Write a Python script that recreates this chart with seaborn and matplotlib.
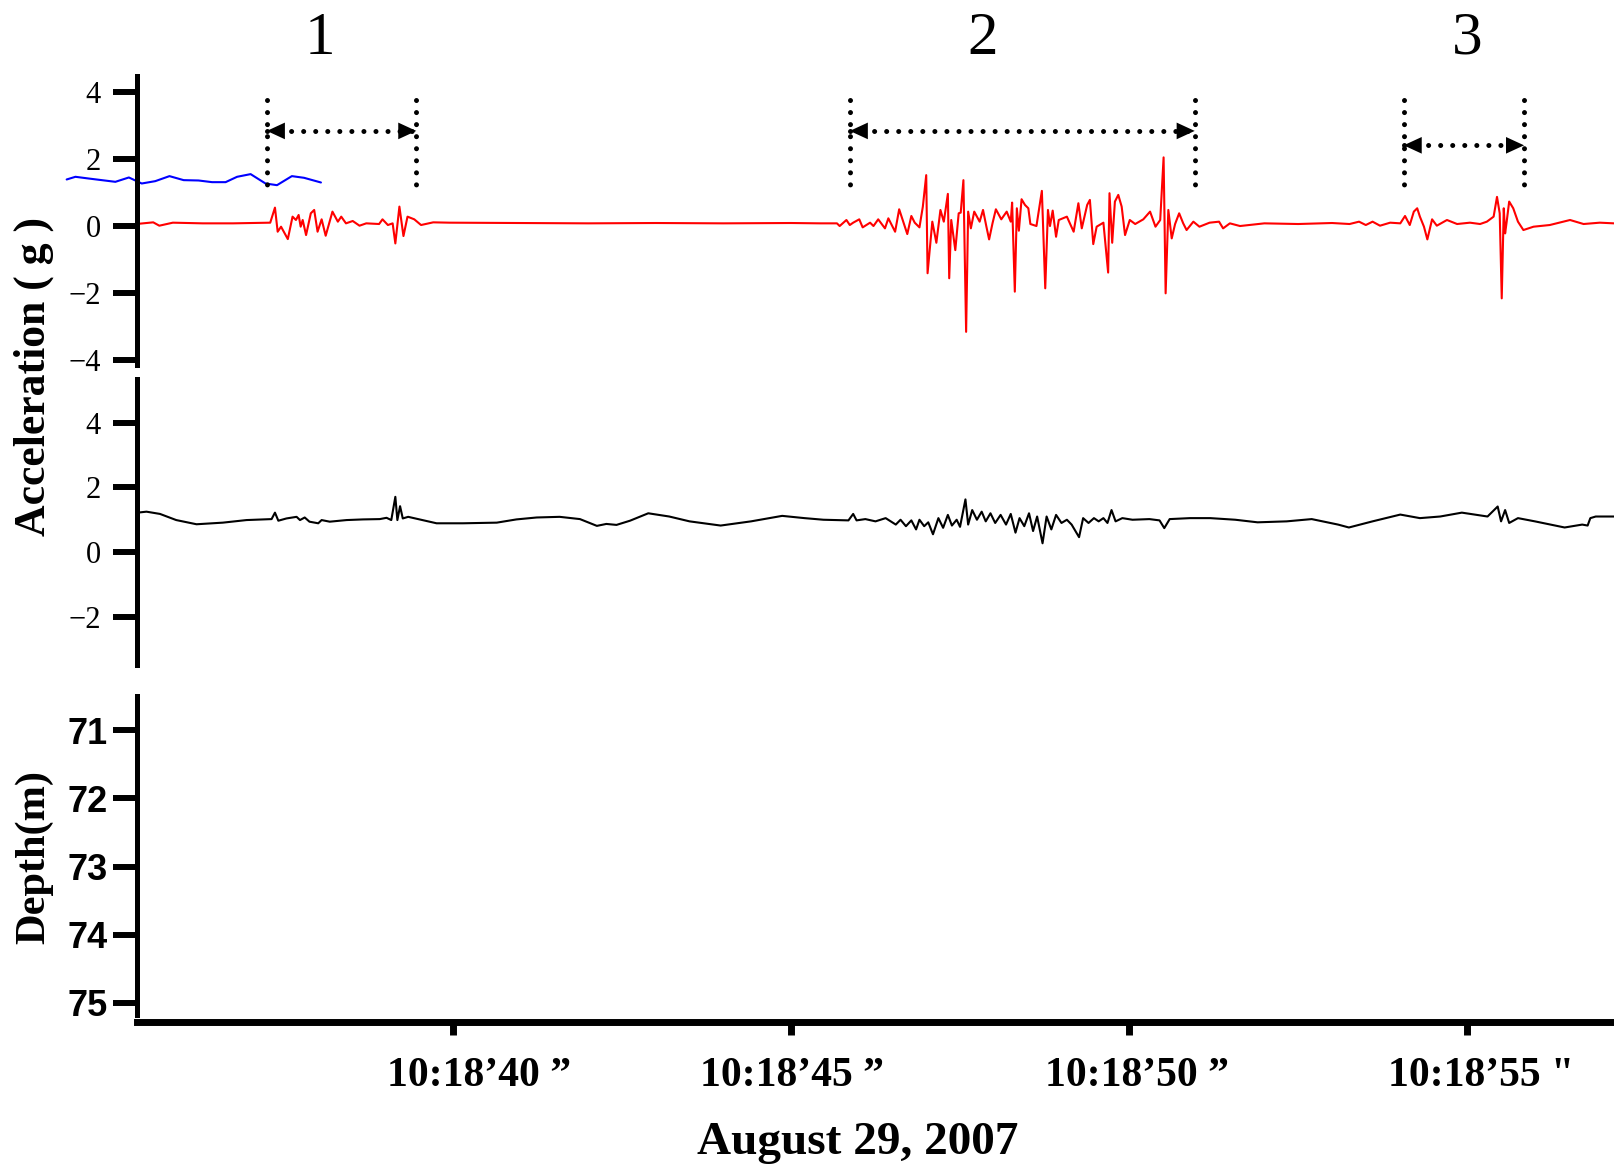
import matplotlib
matplotlib.use('Agg')
import matplotlib.pyplot as plt
import matplotlib.transforms as mtrans
import seaborn as sns

# time axis: seconds after 10:18:00
red_t = [35.32, 35.57, 35.66, 35.86, 36.30, 36.75, 37.30, 37.37, 37.41, 37.46, 37.56, 37.63, 37.68, 37.72,
         37.75, 37.78, 37.83, 37.90, 37.95, 38.00, 38.06, 38.12, 38.22, 38.30, 38.35, 38.42, 38.52, 38.62,
         38.72, 38.91, 38.96, 39.04, 39.11, 39.15, 39.21, 39.27, 39.33, 39.43, 39.53, 39.71, 39.95, 41.0,
         42.0, 43.0, 44.0, 45.0, 45.43, 45.68, 45.72, 45.82, 45.87, 45.92, 46.01, 46.06, 46.17, 46.22,
         46.29, 46.39, 46.44, 46.54, 46.60, 46.66, 46.72, 46.78, 46.83, 46.90, 46.95, 47.00, 47.02, 47.09,
         47.15, 47.21, 47.26, 47.32, 47.34, 47.37, 47.43, 47.48, 47.51, 47.55, 47.59, 47.62, 47.66, 47.71,
         47.79, 47.84, 47.89, 47.93, 47.98, 48.03, 48.11, 48.19, 48.25, 48.27, 48.31, 48.34, 48.37, 48.41,
         48.46, 48.51, 48.54, 48.63, 48.71, 48.76, 48.80, 48.83, 48.87, 48.92, 48.96, 49.08, 49.18, 49.25,
         49.30, 49.38, 49.42, 49.47, 49.52, 49.62, 49.69, 49.71, 49.75, 49.79, 49.84, 49.89, 49.94, 50.01,
         50.09, 50.21, 50.31, 50.39, 50.46, 50.51, 50.54, 50.58, 50.63, 50.68, 50.74, 50.80, 50.85, 50.95,
         51.04, 51.19, 51.33, 51.39, 51.49, 51.64, 52.0, 52.5, 53.0, 53.26, 53.40, 53.50, 53.60, 53.71,
         53.86, 54.01, 54.08, 54.15, 54.21, 54.26, 54.30, 54.36, 54.41, 54.48, 54.55, 54.70, 54.85, 55.04,
         55.19, 55.29, 55.39, 55.44, 55.48, 55.51, 55.54, 55.56, 55.58, 55.62, 55.68, 55.75, 55.83, 55.98,
         56.22, 56.52, 56.72, 56.96, 57.17]
red_g = [0.06, 0.11, 0.01, 0.10, 0.08, 0.08, 0.10, 0.55, -0.17, -0.02, -0.39, 0.28, 0.18, 0.33,
         -0.02, 0.18, -0.27, 0.38, 0.48, -0.17, 0.20, -0.29, 0.43, 0.13, 0.28, 0.08, 0.15, 0.01,
         0.08, 0.06, 0.20, 0.03, 0.08, -0.52, 0.58, -0.30, 0.28, 0.20, 0.03, 0.11, 0.10, 0.09,
         0.08, 0.09, 0.08, 0.09, 0.08, 0.08, 0.00, 0.18, 0.03, 0.10, 0.20, -0.04, 0.10, 0.00,
         0.20, -0.07, 0.23, -0.17, 0.50, 0.13, -0.24, 0.30, 0.10, -0.04, 0.58, 1.52, -1.41, 0.13,
         -0.50, 0.48, 0.13, 0.96, -1.56, 0.18, -0.72, 0.38, 0.40, 1.37, -3.16, 0.43, -0.07, 0.43,
         0.13, 0.48, -0.02, -0.40, 0.08, 0.50, 0.20, 0.43, 0.13, 0.70, -1.96, 0.53, -0.14, 0.80,
         0.63, 0.53, 0.06, 0.00, 1.05, -1.86, 0.48, 0.00, 0.46, -0.32, 0.18, 0.28, -0.17, 0.68,
         -0.07, 0.63, 0.78, -0.54, -0.02, 0.10, -1.39, 0.98, -0.50, 0.73, 0.93, 0.58, -0.27, 0.18,
         0.06, 0.20, 0.43, -0.02, 0.18, 2.05, -2.01, 0.48, -0.37, 0.06, 0.38, 0.08, -0.12, 0.13,
         -0.02, 0.10, 0.13, -0.07, 0.08, 0.00, 0.08, 0.06, 0.09, 0.06, 0.13, 0.03, 0.13, 0.01,
         0.10, 0.08, 0.30, 0.03, 0.43, 0.53, 0.28, -0.02, -0.40, 0.20, 0.01, 0.18, 0.06, 0.10,
         0.06, 0.13, 0.28, 0.87, 0.38, -2.16, 0.53, -0.22, 0.08, 0.73, 0.53, 0.13, -0.12, -0.02,
         0.03, 0.18, 0.06, 0.10, 0.08]

blue_t = [34.29, 34.42, 34.61, 35.01, 35.21, 35.40, 35.60, 35.81, 36.02, 36.24, 36.44, 36.64, 36.81,
          37.01, 37.23, 37.40, 37.62, 37.80, 38.05]
blue_g = [1.39, 1.47, 1.42, 1.32, 1.45, 1.27, 1.34, 1.49, 1.37, 1.36, 1.31, 1.31, 1.47,
          1.55, 1.27, 1.22, 1.49, 1.44, 1.30]

black_t = [35.34, 35.47, 35.67, 35.91, 36.21, 36.60, 36.95, 37.32, 37.37, 37.42, 37.54, 37.69, 37.74,
           37.81, 37.88, 38.01, 38.06, 38.18, 38.43, 38.67, 38.92, 39.02, 39.09, 39.15, 39.18, 39.22,
           39.26, 39.34, 39.51, 39.76, 40.15, 40.65, 40.94, 41.24, 41.58, 41.88, 42.13, 42.27, 42.42,
           42.62, 42.89, 43.20, 43.50, 43.96, 44.41, 44.87, 45.20, 45.48, 45.85, 45.92, 45.97, 46.10,
           46.25, 46.40, 46.55, 46.62, 46.70, 46.78, 46.85, 46.90, 46.97, 47.03, 47.10, 47.18, 47.25,
           47.32, 47.38, 47.45, 47.50, 47.58, 47.62, 47.68, 47.75, 47.82, 47.88, 47.95, 48.02, 48.10,
           48.18, 48.25, 48.32, 48.38, 48.45, 48.52, 48.58, 48.64, 48.72, 48.78, 48.85, 48.92, 49.00,
           49.08, 49.15, 49.26, 49.32, 49.40, 49.48, 49.55, 49.62, 49.68, 49.74, 49.80, 49.90, 50.05,
           50.30, 50.45, 50.52, 50.60, 50.90, 51.20, 51.57, 51.90, 52.33, 52.70, 53.09, 53.25, 53.60,
           54.01, 54.30, 54.60, 54.92, 55.30, 55.45, 55.50, 55.56, 55.62, 55.75, 56.00, 56.44, 56.70,
           56.78, 56.82, 56.90, 57.17]
black_g = [1.22, 1.25, 1.18, 0.99, 0.86, 0.91, 0.99, 1.02, 1.22, 0.97, 1.04, 1.09, 0.99,
           1.07, 0.94, 0.89, 0.99, 0.94, 0.99, 1.01, 1.02, 1.06, 0.99, 1.71, 0.99, 1.42,
           1.04, 1.09, 1.01, 0.89, 0.89, 0.91, 1.01, 1.07, 1.09, 1.02, 0.81, 0.87, 0.84,
           0.97, 1.20, 1.10, 0.95, 0.82, 0.95, 1.12, 1.05, 1.00, 0.98, 1.18, 0.98, 1.02,
           0.95, 1.05, 0.85, 1.00, 0.80, 0.98, 0.70, 1.00, 0.80, 0.92, 0.55, 1.05, 0.75,
           1.15, 0.82, 1.00, 0.78, 1.63, 0.85, 1.30, 1.00, 1.25, 0.95, 1.20, 0.90, 1.15,
           0.85, 1.18, 0.60, 1.05, 0.80, 1.20, 0.65, 1.10, 0.27, 1.10, 0.70, 1.15, 0.90,
           1.00, 0.85, 0.46, 1.05, 0.90, 1.05, 0.95, 1.05, 0.90, 1.30, 0.95, 1.05, 1.00,
           1.02, 0.98, 0.74, 1.02, 1.05, 1.05, 1.00, 0.92, 0.95, 1.02, 0.85, 0.76, 0.95,
           1.16, 1.05, 1.10, 1.22, 1.10, 1.41, 0.95, 1.30, 0.90, 1.05, 0.95, 0.76, 0.85,
           0.82, 1.05, 1.10, 1.10]

# event windows (seconds)
event_names = ['1', '2', '3']
event_label_t = [38.03, 47.83, 55.0]
event_start = [37.25, 45.87, 54.06]
event_end = [39.46, 50.97, 55.84]
event_arrow_g = [2.84, 2.84, 2.41]

tick_secs = [40, 45, 50, 55]
tick_labels = ['10:18\u201940 \u201d', '10:18\u201945 \u201d', '10:18\u201950 \u201d', '10:18\u201955 "']
tick_label_shift_px = [26, 1, 8, 14]
depth_ticks = [71, 72, 73, 74, 75]

sns.set_style('white')
plt.rcParams['font.family'] = ['Liberation Serif', 'DejaVu Serif']
plt.rcParams.update({'text.color': 'black', 'axes.edgecolor': 'black',
                     'xtick.color': 'black', 'ytick.color': 'black', 'axes.labelcolor': 'black'})

W, H = 1614, 1167
fig = plt.figure(figsize=(W / 100, H / 100), dpi=100)
left = 137 / W
ax1 = fig.add_axes([left, 1 - 365 / H, 1 - left, 289 / H])
ax2 = fig.add_axes([left, 1 - 665 / H, 1 - left, 286 / H], sharex=ax1)
ax3 = fig.add_axes([left, 1 - 1022 / H, 1 - left, 326 / H], sharex=ax1)

sns.lineplot(x=red_t, y=red_g, ax=ax1, color='#ff0000', lw=1.5, estimator=None, sort=False)
sns.lineplot(x=blue_t, y=blue_g, ax=ax1, color='#0000ff', lw=1.5, estimator=None, sort=False)
ax1.lines[-1].set_clip_on(False)
sns.lineplot(x=black_t, y=black_g, ax=ax2, color='black', lw=1.5, estimator=None, sort=False)

ax1.set_xlim(35.33, 57.17)
ax1.set_ylim(-4.15, 4.48)
ax2.set_ylim(-3.5, 5.36)
ax3.set_ylim(75.28, 70.5)

for ax in (ax1, ax2, ax3):
    for s in ('top', 'right'):
        ax.spines[s].set_visible(False)
    ax.spines['left'].set_linewidth(3.6)
    ax.spines['left'].set_color('black')
    ax.spines['bottom'].set_color('black')
    ax.set_xlabel('')
    ax.set_ylabel('')
    ax.tick_params(axis='y', direction='out', length=17, width=4.3, left=True, colors='black')

for ax in (ax1, ax2):
    ax.spines['bottom'].set_visible(False)
    ax.tick_params(axis='x', bottom=False, labelbottom=False)
    ax.tick_params(axis='y', labelsize=22, pad=9)

ax1.set_yticks([-4, -2, 0, 2, 4])
ax2.set_yticks([-2, 0, 2, 4])
ax3.set_yticks(depth_ticks)
ax3.set_yticklabels([str(d) for d in depth_ticks], family='Liberation Sans', fontweight='bold', fontsize=26)
ax3.tick_params(axis='y', pad=4)
ax3.spines['left'].set_bounds(70.5, 75.18)
ax3.spines['bottom'].set_linewidth(5)

ax3.tick_params(axis='x', direction='out', length=9.5, width=5, pad=16, bottom=True, colors='black')
ax3.set_xticks(tick_secs)
ax3.set_xticklabels(tick_labels, fontsize=30, fontweight='bold')
for lbl, dx in zip(ax3.get_xticklabels(), tick_label_shift_px):
    lbl.set_transform(lbl.get_transform() + mtrans.ScaledTranslation(dx / 100, 0, fig.dpi_scale_trans))

# event brackets
dot = dict(color='black', lw=3.6, ls=(0, (0.01, 2.4)), dash_capstyle='round', solid_capstyle='round')
for name, lt, t0, t1, ya in zip(event_names, event_label_t, event_start, event_end, event_arrow_g):
    ax1.plot([t0, t0], [3.76, 1.19], **dot)
    ax1.plot([t1, t1], [3.76, 1.19], **dot)
    ax1.plot([t0, t1], [ya, ya], **dot)
    for tip, tail in ((t0, t0 + 0.3), (t1, t1 - 0.3)):
        ax1.annotate('', xy=(tip, ya), xytext=(tail, ya),
                     arrowprops=dict(arrowstyle='-|>,head_length=0.65,head_width=0.3', color='black',
                                     lw=0, shrinkA=0, shrinkB=0, mutation_scale=20))
    ax1.text(lt, 5.58, name, ha='center', va='center', fontsize=44, clip_on=False)

fig.text(34 / W, 1 - 377 / H, 'Acceleration ( g )', rotation=90, ha='center', va='center',
         fontsize=31.5, fontweight='bold')
fig.text(34 / W, 1 - 857 / H, 'Depth(m)', rotation=90, ha='center', va='center',
         fontsize=30.5, fontweight='bold')
fig.text(858 / W, 1 - 1143 / H, 'August 29, 2007', ha='center', va='center',
         fontsize=34, fontweight='bold')

fig.savefig('out.png', dpi=100)
